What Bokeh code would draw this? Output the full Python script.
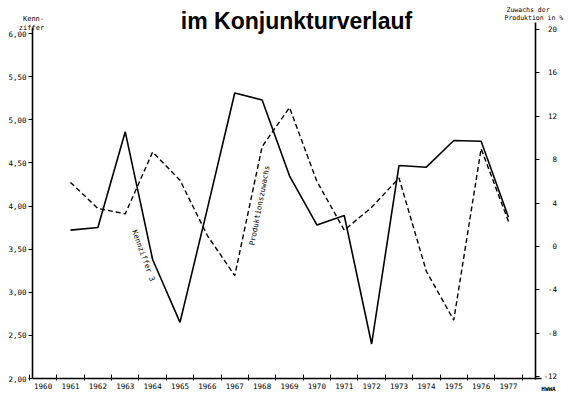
from bokeh.plotting import figure
from bokeh.models import Range1d, LinearAxis, FixedTicker, Label
from bokeh.embed import file_html
from bokeh.resources import INLINE

# ---- data ----
years = list(range(1961, 1978))
kennziffer = [3.72, 3.75, 4.86, 3.38, 2.65, 3.97, 5.31, 5.23, 4.35, 3.78,
              3.89, 2.40, 4.47, 4.45, 4.76, 4.75, 3.87]
produktion = [5.9, 3.5, 3.0, 8.7, 6.1, 1.0, -2.7, 9.2, 12.8, 6.0,
              1.5, 3.6, 6.3, -2.3, -6.8, 9.0, 2.3]
year_ticks = list(range(1960, 1978))
year_labels = [str(y) for y in year_ticks]
left_ticks = [2.0, 2.5, 3.0, 3.5, 4.0, 4.5, 5.0, 5.5, 6.0]
left_labels = ["2,00", "2,50", "3,00", "3,50", "4,00", "4,50", "5,00", "5,50", "6,00"]
right_ticks = [-12, -8, -4, 0, 4, 8, 12, 16, 20]
right_labels = ["-12", "\u2007-8", "\u2007-4", "\u2007\u20070", "\u2007\u20074",
                "\u2007\u20078", "\u200712", "\u200716", "\u200720"]

# ---- geometry: the plot frame fills the whole figure; axes sit at fixed places ----
W, H = 566, 392
# pixel anchors (figure px): x of 1961 / 1977, y of left 6.00 / 2.00, right 20 / -12
PX61, PX77 = 70, 508
PY6, PY2 = 33, 378
PR20, PRM12 = 29, 376

sx = (PX77 - PX61) / 16.0
XMIN, XMAX = 1961 - PX61 / sx, 1961 + (W - PX61) / sx
sy = (PY2 - PY6) / 4.0
YMAX, YMIN = 6 + PY6 / sy, 2 - (H - PY2) / sy
sr = (PRM12 - PR20) / 32.0
RMAX, RMIN = 20 + PR20 / sr, -12 - (H - PRM12) / sr


def X(px):
    return XMIN + px * (XMAX - XMIN) / W


def Y(py):
    return YMAX - py * (YMAX - YMIN) / H


MONO = "DejaVu Sans Mono"
LEFT_AX = X(32)
RIGHT_AX = X(535)

p = figure(width=W, height=H, x_range=Range1d(XMIN, XMAX), y_range=Range1d(YMIN, YMAX),
           output_backend="svg", toolbar_location=None,
           min_border_left=0, min_border_right=0, min_border_top=0, min_border_bottom=0)
p.background_fill_color = "white"
p.border_fill_color = "white"
p.outline_line_color = None
p.grid.visible = False

# x axis
xa = p.xaxis[0]
xa.fixed_location = 2.0
xa.bounds = (LEFT_AX, X(541))
xa.ticker = FixedTicker(ticks=year_ticks, minor_ticks=[y - 0.5 for y in year_ticks + [1978]])
xa.major_label_overrides = {y: s for y, s in zip(year_ticks, year_labels)}
xa.major_tick_line_color = None
xa.major_tick_in = 0
xa.major_tick_out = 0
xa.minor_tick_line_color = "black"
xa.minor_tick_line_width = 1
xa.minor_tick_in = 4
xa.minor_tick_out = 2
xa.major_label_standoff = 2
xa.axis_line_width = 1.5
xa.axis_line_color = "black"
xa.major_label_text_font = MONO
xa.major_label_text_font_size = "7.5px"
xa.major_label_text_color = "black"

# left axis
ya = p.yaxis[0]
ya.fixed_location = LEFT_AX
ya.bounds = (2.0, 6.07)
ya.ticker = FixedTicker(ticks=left_ticks, minor_ticks=[])
ya.major_label_overrides = {t: s for t, s in zip(left_ticks, left_labels)}
ya.major_tick_in = 0
ya.major_tick_out = 4
ya.major_tick_line_width = 1.2
ya.minor_tick_line_color = None
ya.major_label_standoff = 2
ya.axis_line_width = 1.6
ya.major_label_text_font = MONO
ya.major_label_text_font_size = "7.5px"
ya.major_label_text_color = "black"

# right axis
p.extra_y_ranges = {"prod": Range1d(RMIN, RMAX)}
ra = LinearAxis(y_range_name="prod")
ra.fixed_location = RIGHT_AX
ra.bounds = (-12.3, 20.6)
ra.ticker = FixedTicker(ticks=right_ticks, minor_ticks=[])
ra.major_label_overrides = {t: s for t, s in zip(right_ticks, right_labels)}
ra.major_tick_in = 0
ra.major_tick_out = 4
ra.major_tick_line_width = 1.2
ra.minor_tick_line_color = None
ra.major_label_standoff = 4
ra.axis_line_width = 1.6
ra.major_label_text_font = MONO
ra.major_label_text_font_size = "7.5px"
ra.major_label_text_color = "black"
p.add_layout(ra, "right")

# lines
p.line(years, kennziffer, line_color="black", line_width=1.6)
p.line(years, produktion, y_range_name="prod", line_color="black", line_width=1.4,
       line_dash="5 3")


# texts
def add_label(text, px, py, font=MONO, size="7px", align="left", baseline="alphabetic",
              angle=0, style="normal"):
    p.add_layout(Label(x=X(px), y=Y(py), text=text, text_font=font, text_font_size=size,
                       text_align=align, text_baseline=baseline, angle=angle,
                       angle_units="deg", text_font_style=style, text_color="black"))


add_label("im Konjunkturverlauf", 296, 20, font="Liberation Sans", size="23px",
          align="center", style="bold")
add_label("Kenn-", 33, 18, align="center")
add_label("ziffer", 31, 27, align="center")
add_label("Zuwachs der", 506, 9, size="6.5px")
add_label("Produktion in %", 504, 17, size="6.5px")
add_label("Kennziffer 3", 143, 255, size="7.5px", align="center", baseline="middle", angle=-70)
add_label("Produktionszuwachs", 259, 205, size="7.5px", align="center", baseline="middle",
          angle=79)
add_label("HWWA", 548, 388, size="6px", align="center", style="bold")

open("out.html", "w").write(file_html(p, INLINE))
